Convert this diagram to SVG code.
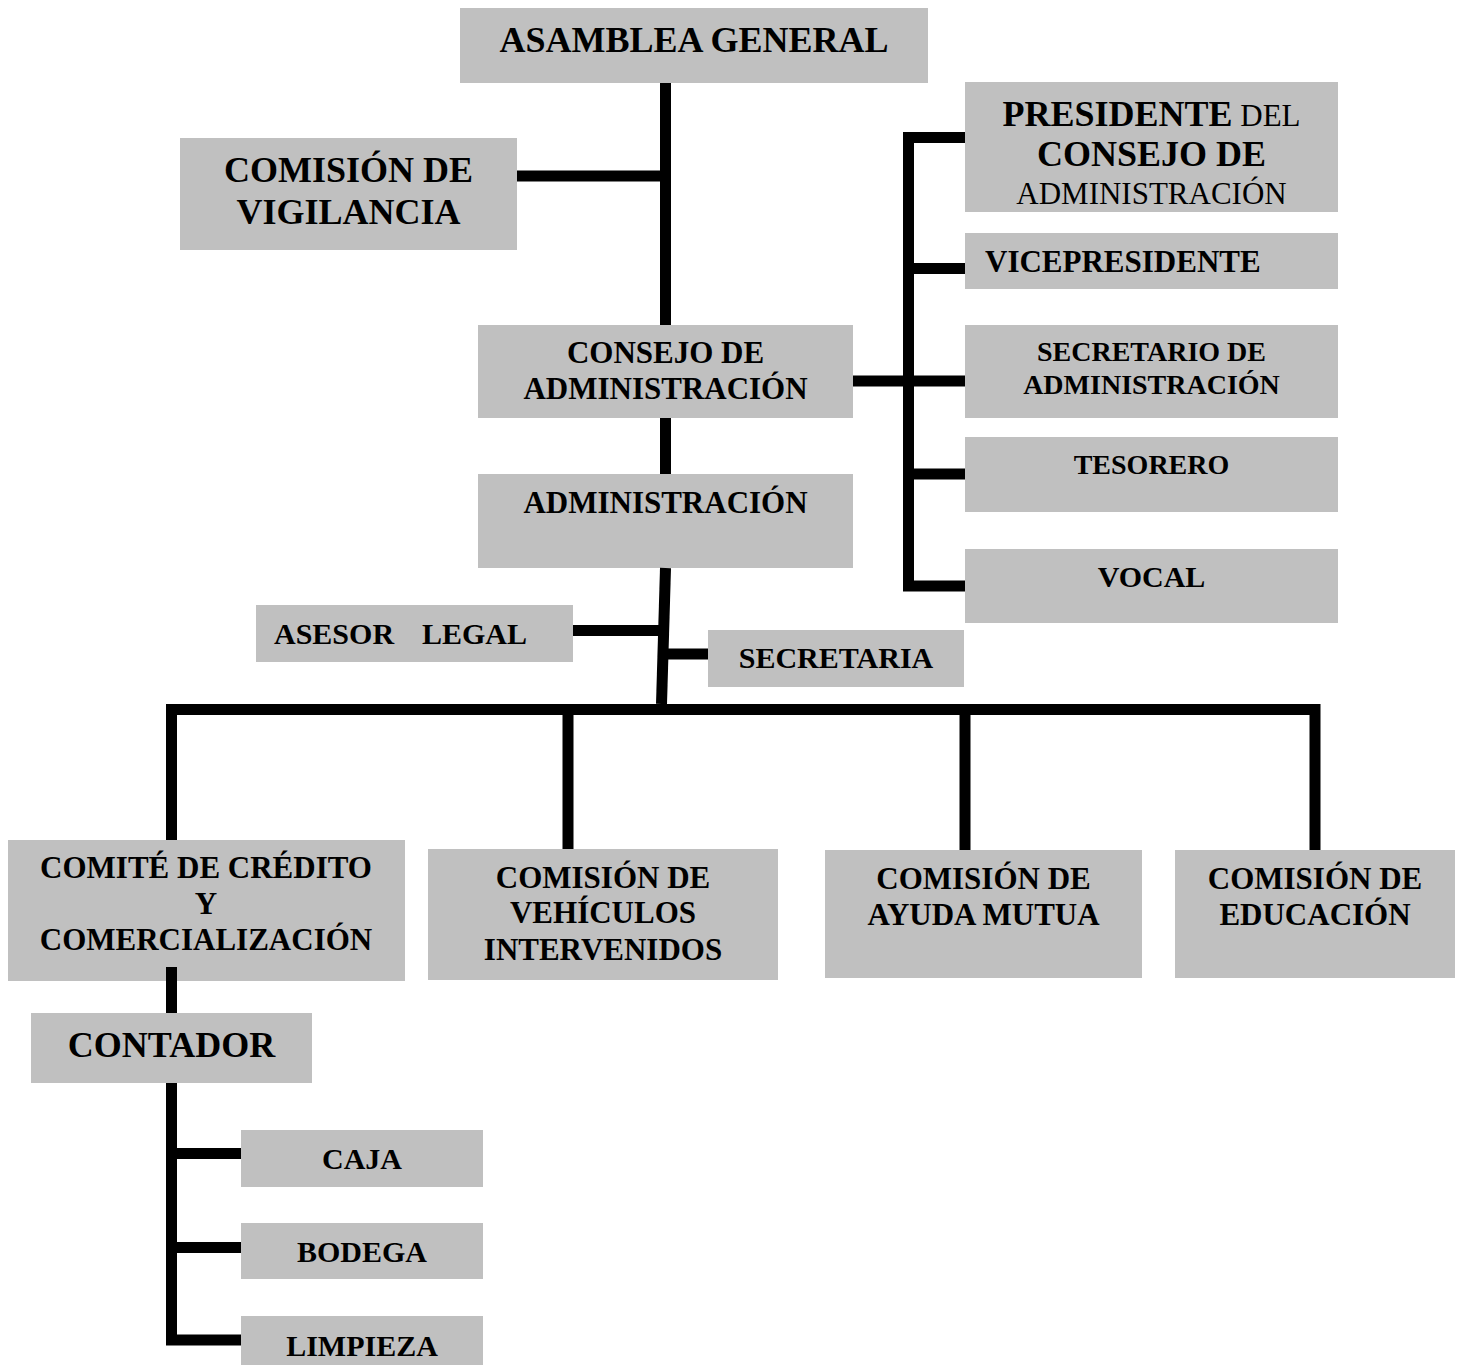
<svg xmlns="http://www.w3.org/2000/svg" width="1462" height="1365" viewBox="0 0 1462 1365">
<style>
.box{fill:#c0c0c0}
text{font-family:"Liberation Serif","Times New Roman",serif;font-weight:bold;fill:#000;text-anchor:middle}
.f36{font-size:36px}
.f31{font-size:31px}
.f30{font-size:30px}
.f28{font-size:28px}
.reg{font-weight:normal}
.ln{stroke:#000;stroke-width:11;fill:none;stroke-linejoin:miter;stroke-linecap:butt}
</style>
<rect width="1462" height="1365" fill="#fff"/>
<g id="asamblea"><rect class="box" x="460" y="8" width="468" height="75"/><text class="f36" x="694" y="52">ASAMBLEA GENERAL</text></g>
<g id="vigilancia"><rect class="box" x="180" y="138" width="337" height="112"/><text class="f36" x="348.5" y="182">COMISIÓN DE</text><text class="f36" x="348.5" y="224">VIGILANCIA</text></g>
<g id="consejo"><rect class="box" x="478" y="325" width="375" height="93"/><text class="f31" x="665.5" y="363">CONSEJO DE</text><text class="f31" x="665.5" y="399">ADMINISTRACIÓN</text></g>
<g id="administracion"><rect class="box" x="478" y="474" width="375" height="94"/><text class="f31" x="665.5" y="513">ADMINISTRACIÓN</text></g>
<g id="presidente"><rect class="box" x="965" y="82" width="373" height="130"/><text x="1151.5" y="126"><tspan class="f36">PRESIDENTE</tspan><tspan class="f31 reg"> DEL</tspan></text><text class="f36" x="1151.5" y="166">CONSEJO DE</text><text class="f31 reg" x="1151.5" y="204">ADMINISTRACIÓN</text></g>
<g id="vicepresidente"><rect class="box" x="965" y="233" width="373" height="56"/><text class="f31" x="985" y="272" style="text-anchor:start">VICEPRESIDENTE</text></g>
<g id="secretario"><rect class="box" x="965" y="325" width="373" height="93"/><text class="f28" x="1151.5" y="361">SECRETARIO DE</text><text class="f28" x="1151.5" y="394">ADMINISTRACIÓN</text></g>
<g id="tesorero"><rect class="box" x="965" y="437" width="373" height="75"/><text class="f28" x="1151.5" y="474">TESORERO</text></g>
<g id="vocal"><rect class="box" x="965" y="549" width="373" height="74"/><text class="f30" x="1151.5" y="587">VOCAL</text></g>
<g id="asesor"><rect class="box" x="256" y="605" width="317" height="57"/><text class="f30" y="644" style="text-anchor:start"><tspan x="274">ASESOR</tspan><tspan x="422">LEGAL</tspan></text></g>
<g id="secretaria"><rect class="box" x="708" y="630" width="256" height="57"/><text class="f30" x="836" y="668">SECRETARIA</text></g>
<g id="comite"><rect class="box" x="8" y="840" width="397" height="141"/><text class="f31" x="206" y="878">COMITÉ DE CRÉDITO</text><text class="f31" x="206" y="914">Y</text><text class="f31" x="206" y="950">COMERCIALIZACIÓN</text></g>
<g id="vehiculos"><rect class="box" x="428" y="849" width="350" height="131"/><text class="f31" x="603" y="888">COMISIÓN DE</text><text class="f31" x="603" y="923">VEHÍCULOS</text><text class="f31" x="603" y="960">INTERVENIDOS</text></g>
<g id="ayuda"><rect class="box" x="825" y="850" width="317" height="128"/><text class="f31" x="983.5" y="889">COMISIÓN DE</text><text class="f31" x="983.5" y="925">AYUDA MUTUA</text></g>
<g id="educacion"><rect class="box" x="1175" y="850" width="280" height="128"/><text class="f31" x="1315" y="889">COMISIÓN DE</text><text class="f31" x="1315" y="925">EDUCACIÓN</text></g>
<g id="contador"><rect class="box" x="31" y="1013" width="281" height="70"/><text class="f36" x="171.5" y="1057">CONTADOR</text></g>
<g id="caja"><rect class="box" x="241" y="1130" width="242" height="57"/><text class="f30" x="362" y="1169">CAJA</text></g>
<g id="bodega"><rect class="box" x="241" y="1223" width="242" height="56"/><text class="f30" x="362" y="1262">BODEGA</text></g>
<g id="limpieza"><rect class="box" x="241" y="1316" width="242" height="49"/><text class="f30" x="362" y="1356">LIMPIEZA</text></g>
<g id="connectors">
<path class="ln" d="M665.5 83V325"/>
<path class="ln" d="M517 176H665.5"/>
<path class="ln" d="M665.5 418V474"/>
<path class="ln" d="M665.5 568L661.5 704"/>
<path class="ln" d="M573 630.5H663"/>
<path class="ln" d="M663 654H708"/>
<path class="ln" d="M965 137.5H908.5V586H965"/>
<path class="ln" d="M908.5 268.5H965"/>
<path class="ln" d="M853 381H965"/>
<path class="ln" d="M908.5 474H965"/>
<path class="ln" d="M171.5 840V709.5H1315V850"/>
<path class="ln" d="M568 709.5V849"/>
<path class="ln" d="M965 709.5V850"/>
<path class="ln" d="M171.5 967V1013"/>
<path class="ln" d="M171.5 1083V1340H241"/>
<path class="ln" d="M171.5 1153.5H241"/>
<path class="ln" d="M171.5 1247.5H241"/>
</g>
</svg>
